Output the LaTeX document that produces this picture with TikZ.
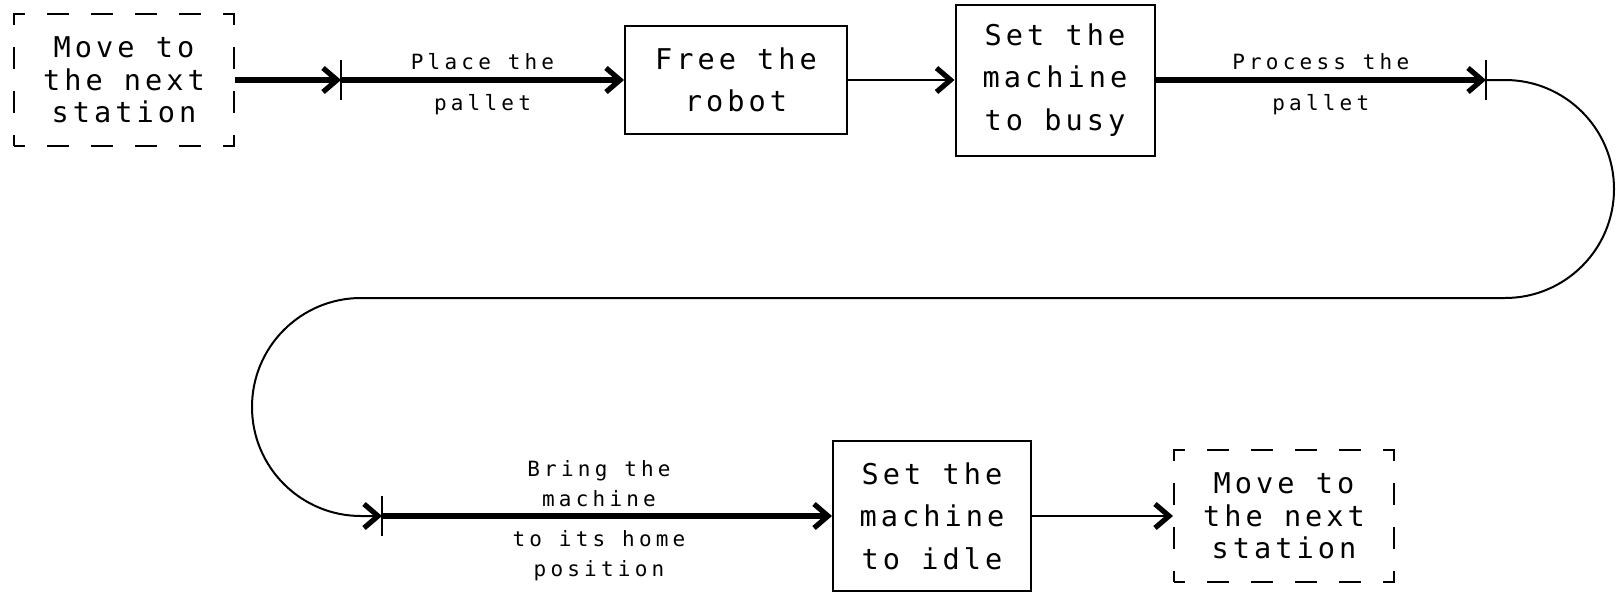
\documentclass[tikz,border=0pt]{standalone}
\usepackage{fontspec}
\usepackage{tikz}
\usetikzlibrary{
  arrows.meta,
  positioning
}
\newfontfamily\boxfont{DejaVu Sans Mono}[LetterSpace=14]
\newfontfamily\labelfont{DejaVu Sans Mono}[LetterSpace=20]

\begin{document}
\begin{tikzpicture}[%スタイル設定
          x=0.5pt,y=-0.5pt,
          box/.style={
              draw,
              line width=1pt,
              align=center,
              inner sep=0pt,
              font=\boxfont\fontsize{14.3}{21.25}\selectfont
            },dashbox/.style={
              box,
              minimum width=110pt,
              minimum height=66pt,
              dash pattern=on 11pt off 11pt,
              dash phase=5.5pt,
              font=\boxfont\fontsize{14.3}{16.25}\selectfont
            },chev/.tip={Straight Barb[length=7pt,width=12pt,line width=2.6pt]}
          ,flow/.style={line width=3pt,-chev}
          ,link/.style={line width=1pt,-chev}
          ,tickmark/.style={line width=1pt}
          ,lab/.style={
              inner sep=0pt,
              align=center,
              font=\labelfont\fontsize{10.5}{15.25}\selectfont
            }
        ]
        \useasboundingbox (0,0) rectangle (1616,594);

        % 上段
        \node[dashbox] (start) at (124,80) {Move to\\the next\\station};
        \coordinate (tick1) at (341,80);
        \node[box, minimum width=111pt, minimum height=54pt]
          (free) at (736,80) {Free the\\robot};
        \node[box, minimum width=99.5pt, minimum height=75.5pt]
          (busy) at (1055,80) {Set the\\machine\\to busy};
        \coordinate (tick2) at (1486,80);

        % 下段
        \coordinate (tick3) at (382,516);
        \node[box, minimum width=99pt, minimum height=75pt]
          (idle) at (932,516) {Set the\\machine\\to idle};
        \node[dashbox] (next) at (1284,516) {Move to\\the next\\station};

        % 区切りの縦線
        \foreach \t in {tick1,tick2,tick3}
          \draw[tickmark] (\t) ++(0,-20) -- ++(0,40);

        % 上段の経路
        \draw[flow] (start) -- (tick1);
        \draw[flow] (tick1) -- (free)
          node[midway,lab,above=3.5pt] {Place the}
          node[midway,lab,below=5.7pt] {pallet};
        \draw[link] (free) -- (busy);
        \draw[flow] (busy) -- (tick2)
          node[midway,lab,above=3.5pt] {Process the}
          node[midway,lab,below=5.7pt] {pallet};

        % 折り返し
        \draw[link] (tick2) -- ++(19,0)
          arc[start angle=-90,end angle=90,radius=109]
          -- ++(-1144,0)
          arc[start angle=-90,end angle=-270,radius=109]
          -- (tick3);

        % 下段の経路
        \draw[flow] (tick3) -- (idle)
          node[midway,lab,above=3pt,xshift=-4pt] {Bring the\\machine}
          node[midway,lab,below=5.7pt,xshift=-4pt] {to its home\\position};
        \draw[link] (idle) -- (next);
      \end{tikzpicture}
\end{document}
